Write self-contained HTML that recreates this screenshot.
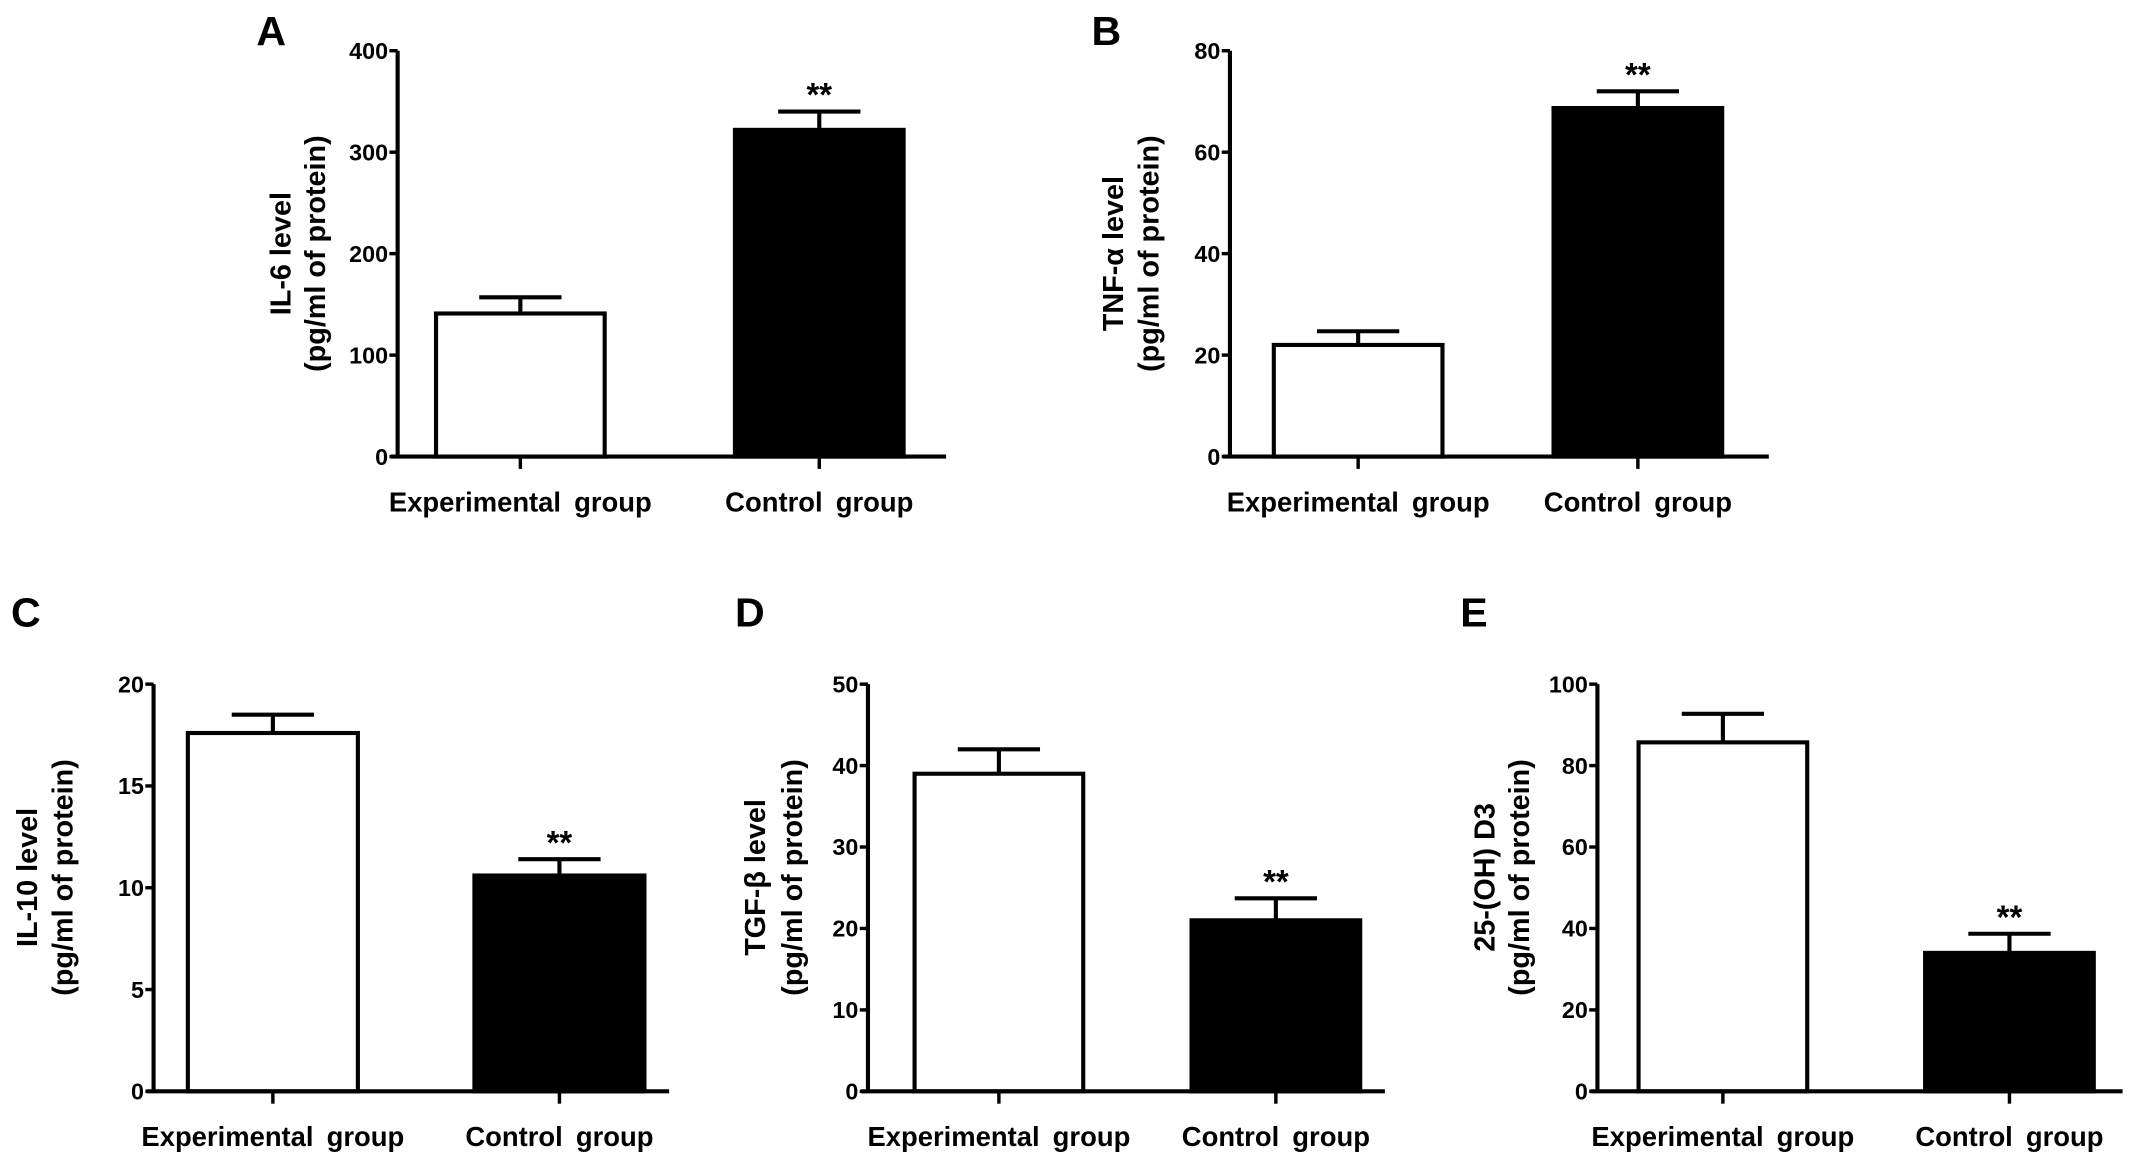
<!DOCTYPE html>
<html><head><meta charset="utf-8"><style>
html,body{margin:0;padding:0;background:#fff;width:2150px;height:1164px;overflow:hidden}
svg{display:block}
text{font-family:"Liberation Sans",sans-serif;font-weight:bold;fill:#000}
</style></head><body>
<svg id="fig" width="2150" height="1164" viewBox="0 0 1568 849" preserveAspectRatio="none" xmlns="http://www.w3.org/2000/svg"></svg>
<script>
const categories = ["Experimental group", "Control group"];
const panelLetters = ["A", "B", "C", "D", "E"];
const titleLine1 = ["IL-6 level", "TNF-α level", "IL-10 level", "TGF-β level", "25-(OH) D3"];
const titleLine2 = ["(pg/ml of protein)", "(pg/ml of protein)", "(pg/ml of protein)", "(pg/ml of protein)", "(pg/ml of protein)"];
const meanA = [141, 322];  const errA = [157, 340];
const meanB = [22, 68.7];  const errB = [24.7, 72];
const meanC = [17.6, 10.6]; const errC = [18.5, 11.4];
const meanD = [39, 21];    const errD = [42, 23.7];
const meanE = [85.7, 34];  const errE = [92.7, 38.7];
const ticksA = [0, 100, 200, 300, 400];
const ticksB = [0, 20, 40, 60, 80];
const ticksC = [0, 5, 10, 15, 20];
const ticksD = [0, 10, 20, 30, 40, 50];
const ticksE = [0, 20, 40, 60, 80, 100];
const sigMarks = ["", "**"];

// layout (not data)
const layouts = [
  {ax:290, top:37, zero:333, end:690, b1:318, b2:536, bw:123, letter:[187,33], t1:205, t2:230, tc:185},
  {ax:897, top:37, zero:333, end:1290, b1:929, b2:1133, bw:123, letter:[796,33], t1:812, t2:838, tc:185},
  {ax:112, top:499, zero:796, end:488, b1:137, b2:346, bw:124, letter:[8,457], t1:20, t2:46, tc:640},
  {ax:633, top:499, zero:796, end:1010, b1:667, b2:869, bw:123, letter:[536,457], t1:551, t2:578, tc:640},
  {ax:1165, top:499, zero:796, end:1548, b1:1195, b2:1404, bw:123, letter:[1065,457], t1:1083, t2:1108, tc:640}
];
const means = [meanA, meanB, meanC, meanD, meanE];
const errs = [errA, errB, errC, errD, errE];
const ticks = [ticksA, ticksB, ticksC, ticksD, ticksE];

const svg = document.getElementById('fig');
const NS = 'http://www.w3.org/2000/svg';
function mk(tag, attrs, parent) {
  const e = document.createElementNS(NS, tag);
  for (const k in attrs) e.setAttribute(k, attrs[k]);
  parent.appendChild(e);
  return e;
}

layouts.forEach((L, p) => {
  const g = mk('g', {}, svg);
  
  
  const tk = ticks[p];
  const ymax = tk[tk.length - 1];
  const y = v => L.zero - (v / ymax) * (L.zero - L.top);

  const letter = mk('text', {x: L.letter[0], y: L.letter[1], 'font-size': 30}, g);
  letter.textContent = panelLetters[p];
  
  

  const t1 = mk('text', {x: 0, y: 0, 'font-size': 21, 'text-anchor': 'middle', transform: `translate(${L.t1 + 7},${L.tc}) rotate(-90)`}, g);
  t1.textContent = titleLine1[p];
  
  
  const t2 = mk('text', {x: 0, y: 0, 'font-size': 21, 'text-anchor': 'middle', transform: `translate(${L.t2 + 7},${L.tc}) rotate(-90)`}, g);
  t2.textContent = titleLine2[p];
  
  

  const xs = [L.b1, L.b2];
  means[p].forEach((m, i) => {
    const cx = xs[i] + L.bw / 2;
    const eb = mk('path', {d: `M${cx},${y(m)} V${y(errs[p][i])} M${cx - 30},${y(errs[p][i])} H${cx + 30}`, stroke: '#000', 'stroke-width': 3, fill: 'none'}, g);
    
    
    const r = mk('rect', {x: xs[i], y: y(m), width: L.bw, height: L.zero - y(m), fill: i === 0 ? '#fff' : '#000', stroke: '#000', 'stroke-width': 3}, g);
    
    
    if (sigMarks[i]) {
      const s = mk('text', {x: cx, y: y(errs[p][i]) - 4, 'font-size': 24, 'text-anchor': 'middle'}, g);
      s.textContent = sigMarks[i];
      
      
    }
    const xt = mk('line', {x1: cx, x2: cx, y1: L.zero, y2: L.zero + 9, stroke: '#000', 'stroke-width': 2.5}, g);
    
    
    const xl = mk('text', {x: cx, y: L.zero + 40, 'font-size': 20, 'text-anchor': 'middle', 'word-spacing': 4}, g);
    xl.textContent = categories[i];
    
    
  });

  const ya = mk('line', {x1: L.ax, x2: L.ax, y1: L.top, y2: L.zero, stroke: '#000', 'stroke-width': 3}, g);
  
  
  const xa = mk('line', {x1: L.ax - 5, x2: L.end, y1: L.zero, y2: L.zero, stroke: '#000', 'stroke-width': 3}, g);
  
  
  tk.forEach(v => {
    const tl = mk('line', {x1: L.ax - 6, x2: L.ax, y1: y(v), y2: y(v), stroke: '#000', 'stroke-width': 2.5}, g);
    
    
    const tt = mk('text', {x: L.ax - 7, y: y(v) + 6, 'font-size': 17, 'text-anchor': 'end'}, g);
    tt.textContent = v;
    
    
  });
});
</script>
</body></html>
